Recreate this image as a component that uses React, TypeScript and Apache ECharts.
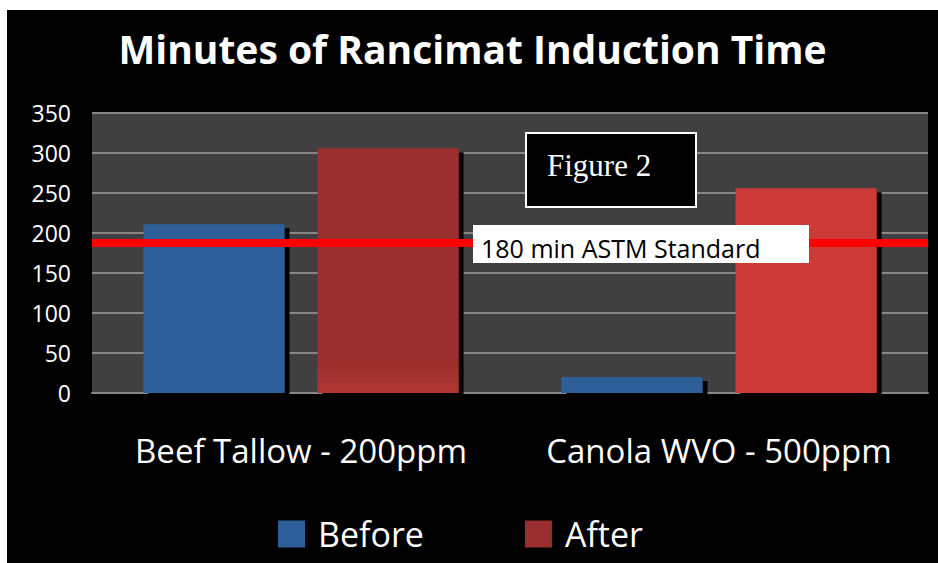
import React, { useEffect, useRef } from "react";
import * as echarts from "echarts";

const categories = ["Beef Tallow - 200ppm", "Canola WVO - 500ppm"];
const beforeValues = [211, 20];
const afterValues = [306, 256];
const standardLine = [187.5];
const yTicks = { min: 0, max: 350, interval: 50 };
const seriesNames = ["Before", "After"];

const FONT = "'Open Sans', 'Noto Sans', sans-serif";

export default function App() {
  const ref = useRef<HTMLDivElement>(null);

  useEffect(() => {
    if (!ref.current) return;
    const chart = echarts.init(ref.current, undefined, { renderer: "svg" });
    const afterItemColors = [
      {
        type: "linear",
        x: 0,
        y: 0,
        x2: 0,
        y2: 1,
        colorStops: [
          { offset: 0, color: "#9B2E2E" },
          { offset: 0.87, color: "#9B2E2E" },
          { offset: 1, color: "#B03634" },
        ],
      },
      "#CC3B37",
    ];
    const shadow = {
      shadowColor: "#000",
      shadowBlur: 0,
      shadowOffsetX: 5,
      shadowOffsetY: 4,
    };
    chart.setOption({
      animation: false,
      backgroundColor: "#000",
      title: {
        text: "Minutes of Rancimat Induction Time",
        left: "center",
        top: 19,
        padding: 0,
        textStyle: {
          color: "#fff",
          fontFamily: FONT,
          fontWeight: "bold",
          fontSize: 39,
        },
      },
      legend: {
        data: seriesNames,
        left: 271,
        top: 507,
        padding: 0,
        itemWidth: 27,
        itemHeight: 27,
        itemGap: 101,
        icon: "rect",
        textStyle: {
          color: "#fff",
          fontFamily: FONT,
          fontSize: 34,
          lineHeight: 34,
          padding: [0, 0, 0, 8],
        },
      },
      grid: {
        left: 85,
        top: 103,
        right: 10,
        bottom: 170,
        show: true,
        backgroundColor: "#404040",
        borderWidth: 0,
      },
      xAxis: {
        type: "category",
        data: categories,
        axisLine: { show: true, lineStyle: { color: "#878787", width: 2 } },
        axisTick: { show: false },
        axisLabel: {
          color: "#fff",
          fontFamily: FONT,
          fontSize: 33,
          margin: 41,
          interval: 0,
        },
      },
      yAxis: {
        type: "value",
        min: yTicks.min,
        max: yTicks.max,
        interval: yTicks.interval,
        axisLine: { show: false },
        axisTick: { show: false },
        splitLine: { lineStyle: { color: "#878787", width: 2 } },
        axisLabel: {
          color: "#fff",
          fontFamily: FONT,
          fontSize: 23,
          margin: 21,
        },
      },
      series: [
        {
          name: seriesNames[0],
          type: "bar",
          data: beforeValues,
          barGap: "23.4%",
          barCategoryGap: "24.6%",
          itemStyle: { color: "#2E5E99", ...shadow },
        },
        {
          name: seriesNames[1],
          type: "bar",
          data: afterValues.map((v, i) => ({
            value: v,
            itemStyle: { color: afterItemColors[i] },
          })),
          itemStyle: { color: "#9B2E2E", ...shadow },
          markLine: {
            silent: true,
            symbol: "none",
            label: { show: false },
            lineStyle: { color: "#FF0000", width: 8, type: "solid" },
            data: standardLine.map((v) => ({ yAxis: v })),
          },
        },
      ],
      graphic: [
        {
          type: "rect",
          z: 100,
          shape: { x: 519, y: 123, width: 170, height: 74 },
          style: { fill: "#000", stroke: "#fff", lineWidth: 2 },
        },
        {
          type: "text",
          z: 101,
          x: 540,
          y: 155,
          style: {
            text: "Figure 2",
            fill: "#fff",
            font: "31px 'Liberation Serif', 'DejaVu Serif', serif",
            verticalAlign: "middle",
          },
        },
        {
          type: "rect",
          z: 100,
          shape: { x: 466, y: 215, width: 336, height: 38 },
          style: { fill: "#fff" },
        },
        {
          type: "text",
          z: 101,
          x: 474,
          y: 238,
          style: {
            text: "180 min ASTM Standard",
            fill: "#000",
            font: "25px 'Open Sans', sans-serif",
            verticalAlign: "middle",
          },
        },
      ],
    });
    return () => chart.dispose();
  }, []);

  return (
    <div
      style={{
        position: "fixed",
        left: 0,
        top: 0,
        width: 938,
        height: 563,
        background: "#fff",
        overflow: "hidden",
      }}
    >
      <div
        ref={ref}
        style={{ position: "absolute", left: 7, top: 10, width: 931, height: 553 }}
      />
    </div>
  );
}
